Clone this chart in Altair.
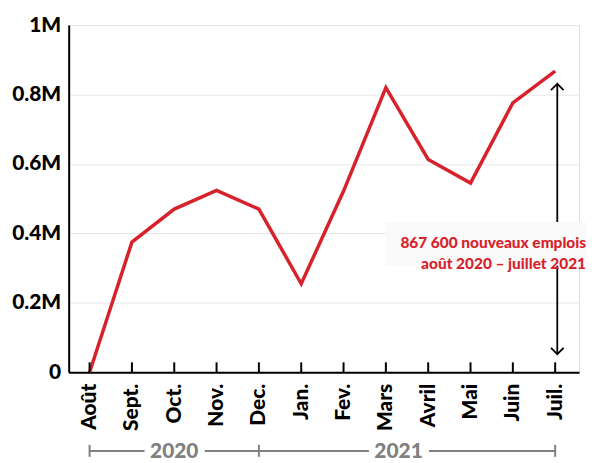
import altair as alt
import pandas as pd

months = ["Août", "Sept.", "Oct.", "Nov.", "Dec.", "Jan.", "Fev.", "Mars", "Avril", "Mai", "Juin", "Juil."]
jobs = [0, 375000, 470000, 524000, 470000, 255000, 522000, 820000, 613000, 545000, 776000, 867600]
years = ["2020", "2021"]
year_start = [0, 4]
year_end = [4, 11]
year_mid = [2, 7.3]
annot_lines = ["867 600 nouveaux emplois", "août 2020 – juillet 2021"]

RED = "#d7222c"
GRAY = "#808080"
FONT = "Lato"
W, H = 513, 349

df = pd.DataFrame({"i": list(range(len(months))), "m": months, "v": jobs})
yr = pd.DataFrame({"year": years, "s": year_start, "e": year_end, "mid": year_mid})

label_expr = "[" + ",".join(f"'{m}'" for m in months) + "][datum.value]"

xscale = alt.Scale(domain=[-0.494, 11.564], nice=False, zero=False)
yscale = alt.Scale(domain=[0, 1000000], nice=False)

x_enc = alt.X("i:Q", scale=xscale, axis=alt.Axis(
    values=list(range(12)), labelExpr=label_expr, labelAngle=-90, labelAlign="right",
    labelBaseline="middle", labelFont=FONT, labelFontWeight=900, labelFontSize=21,
    labelColor="black", labelPadding=11, ticks=False, grid=False, domainColor="black",
    domainWidth=2, title=None, labelFlush=False, labelOverlap=False))
y_enc = alt.Y("v:Q", scale=yscale, axis=alt.Axis(
    values=[0, 200000, 400000, 600000, 800000, 1000000],
    labelExpr="datum.value == 0 ? '0' : format(datum.value/1000000, '.1~f') + 'M'",
    labelFont=FONT, labelFontWeight=900, labelFontSize=21, labelColor="black",
    labelPadding=8, ticks=False, grid=True, gridColor="#e8e8e8", gridWidth=1,
    domainColor="black", domainWidth=2, title=None, labelFlush=False, labelOverlap=False))

base = alt.Chart(df)

line = base.mark_line(color=RED, strokeWidth=3.5, clip=False).encode(x=x_enc, y=y_enc)

ticks = base.mark_rule(color="black", strokeWidth=2).encode(
    x=alt.X("i:Q", scale=xscale), y=alt.value(H - 10), y2=alt.value(H))

# year brackets
yb = alt.Chart(yr)
bracket_y = H + 79
brule = yb.mark_rule(color=GRAY, strokeWidth=2).encode(
    x=alt.X("s:Q", scale=xscale), x2="e:Q", y=alt.value(bracket_y))
bticks_df = pd.DataFrame({"t": [0, 4, 11]})
bticks = alt.Chart(bticks_df).mark_rule(color=GRAY, strokeWidth=2).encode(
    x=alt.X("t:Q", scale=xscale), y=alt.value(bracket_y - 6), y2=alt.value(bracket_y + 6))
yr_bg_df = pd.DataFrame({"a": [m - 0.70 for m in year_mid], "b": [m + 0.72 for m in year_mid]})
yr_bg = alt.Chart(yr_bg_df).mark_rect(color="white").encode(
    x=alt.X("a:Q", scale=xscale), x2="b:Q", y=alt.value(bracket_y - 12), y2=alt.value(bracket_y + 12))
yr_txt = yb.mark_text(color=GRAY, font=FONT, fontWeight=900, fontSize=21, baseline="middle").encode(
    x=alt.X("mid:Q", scale=xscale), y=alt.value(bracket_y + 1), text="year:N")

# arrow
arr_df = pd.DataFrame({"x": [11.05], "y1": [831000], "y2": [52000]})
arrow = alt.Chart(arr_df).mark_rule(color="black", strokeWidth=1.8).encode(
    x=alt.X("x:Q", scale=xscale), y=alt.Y("y1:Q", scale=yscale), y2="y2:Q")
head_up = alt.Chart(arr_df).mark_point(
    shape="M-1,1L0,0L1,1", filled=False, color="black", strokeWidth=1.8, size=160, opacity=1).encode(
    x=alt.X("x:Q", scale=xscale), y=alt.Y("y1:Q", scale=yscale))
head_dn = alt.Chart(arr_df).mark_point(
    shape="M-1,-1L0,0L1,-1", filled=False, color="black", strokeWidth=1.8, size=160, opacity=1).encode(
    x=alt.X("x:Q", scale=xscale), y=alt.Y("y2:Q", scale=yscale))

box_df = pd.DataFrame({"a": [7.0], "b": [11.9], "t": [433000], "btm": [307000]})
box = alt.Chart(box_df).mark_rect(color="#fafafa").encode(
    x=alt.X("a:Q", scale=xscale), x2="b:Q", y=alt.Y("t:Q", scale=yscale), y2="btm:Q")
ann_df = pd.DataFrame({"x": [11.73], "y": [372000], "t": ["\n".join(annot_lines)]})
ann = alt.Chart(ann_df).mark_text(
    color=RED, font=FONT, fontWeight=900, fontSize=15.5, align="right", baseline="middle",
    lineBreak="\n", lineHeight=21).encode(
    x=alt.X("x:Q", scale=xscale), y=alt.Y("y:Q", scale=yscale), text="t:N")

chart = alt.layer(line, ticks, arrow, head_up, head_dn, box, ann, brule, bticks, yr_bg, yr_txt).properties(
    width=W, height=H,
    autosize=alt.AutoSizeParams(type="none"),
    padding={"left": 61, "top": 16, "right": 8, "bottom": 90},
).configure_view(stroke=None).configure(background="white")

chart.save("out.html", embed_options={"renderer": "svg", "actions": False})
